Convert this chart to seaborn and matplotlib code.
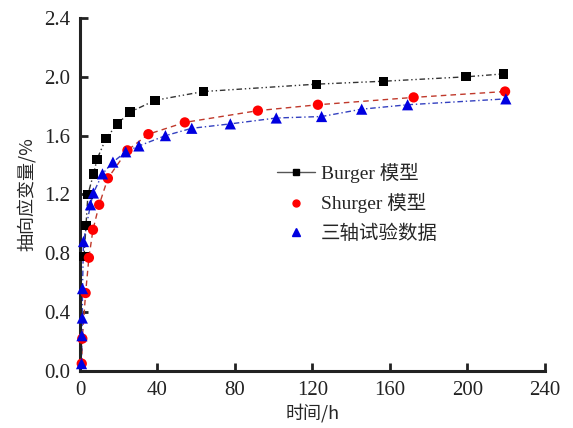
import numpy as np
import pandas as pd
import matplotlib
matplotlib.use("Agg")
import matplotlib.pyplot as plt
import seaborn as sns
from matplotlib.lines import Line2D

# Burger model
burger_t = [2.1, 3.1, 4.1, 7.0, 8.8, 13.4, 19.3, 25.8, 38.7, 63.7, 122.0, 156.7, 199.3, 218.7]
burger_e = [0.78, 0.99, 1.20, 1.34, 1.44, 1.58, 1.68, 1.76, 1.84, 1.90, 1.95, 1.97, 2.00, 2.02]

# Shurger model
shurger_t = [0.9, 1.2, 2.9, 4.6, 6.7, 9.9, 14.4, 24.5, 35.3, 54.1, 91.8, 122.8, 172.2, 219.4]
shurger_e = [0.05, 0.22, 0.53, 0.77, 0.96, 1.13, 1.31, 1.50, 1.61, 1.69, 1.77, 1.81, 1.86, 1.90]

# triaxial test data
test_t = [0.8, 1.0, 1.2, 1.3, 1.8, 5.4, 6.9, 11.6, 17.0, 23.6, 30.4, 44.1, 57.7, 77.6,
          101.3, 124.7, 145.4, 169.1, 219.8]
test_e = [0.05, 0.24, 0.36, 0.56, 0.88, 1.13, 1.21, 1.34, 1.42, 1.49, 1.53, 1.60, 1.65, 1.68,
          1.72, 1.73, 1.78, 1.81, 1.85]

x_ticks = [0, 40, 80, 120, 160, 200, 240]
y_ticks = [0.0, 0.4, 0.8, 1.2, 1.6, 2.0, 2.4]
labels = ["Burger 模型", "Shurger 模型", "三轴试验数据"]

sns.set_style("ticks")
plt.rcParams["font.family"] = ["Liberation Serif", "Noto Sans CJK SC"]

fig = plt.figure(figsize=(5.73, 4.28), dpi=100)
ax = fig.add_axes([0.1396, 0.1332, 0.8115, 0.8248])

df_b = pd.DataFrame({"t": burger_t, "e": burger_e})
df_s = pd.DataFrame({"t": shurger_t, "e": shurger_e})
df_x = pd.DataFrame({"t": test_t, "e": test_e})

# fitted / connecting lines
sns.lineplot(data=df_b, x="t", y="e", ax=ax, color="#333333", lw=1.0, sort=False)
ax.lines[-1].set_dashes([4, 2, 1, 2, 1, 2])
sns.lineplot(data=df_s, x="t", y="e", ax=ax, color="#c0392b", lw=1.0, sort=False)
ax.lines[-1].set_dashes([4, 3])
sns.lineplot(data=df_x, x="t", y="e", ax=ax, color="#3340c0", lw=1.0, sort=False)
ax.lines[-1].set_dashes([4, 2, 1, 2])

# markers
sns.scatterplot(data=df_b, x="t", y="e", ax=ax, marker="s", s=45, color="black",
                edgecolor="none", clip_on=False, zorder=3)
sns.scatterplot(data=df_s, x="t", y="e", ax=ax, marker="o", s=55, color="red",
                edgecolor="none", clip_on=False, zorder=3)
sns.scatterplot(data=df_x, x="t", y="e", ax=ax, marker="^", s=65, color="#0000e0",
                edgecolor="none", clip_on=False, zorder=4)

ax.set_xlim(0, 240)
ax.set_ylim(0, 2.4)
ax.set_xticks(x_ticks)
ax.set_yticks(y_ticks)
ax.set_yticklabels([f"{v:.1f}" for v in y_ticks])
ax.tick_params(direction="in", length=6, width=2, labelsize=15, colors="#222222", pad=7)
for s in ["left", "bottom"]:
    ax.spines[s].set_linewidth(2.2)
    ax.spines[s].set_color("#222222")
sns.despine(ax=ax)

cjk = ["Noto Sans CJK SC"]
ax.set_xlabel("时间/h", fontsize=13, family=cjk, labelpad=3)
ax.set_ylabel("抽向应变量/%", fontsize=13, family=cjk, labelpad=6)

handles = [
    Line2D([], [], color="#555555", lw=1.0, marker="s", markersize=5, markerfacecolor="black",
           markeredgecolor="black"),
    Line2D([], [], color="none", marker="o", markersize=5, markerfacecolor="red",
           markeredgecolor="red"),
    Line2D([], [], color="none", marker="^", markersize=6, markerfacecolor="#0000e0",
           markeredgecolor="#0000e0"),
]
ax.legend(handles, labels, loc="upper left", bbox_to_anchor=(0.385, 0.64), frameon=False,
          handlelength=2.0, handletextpad=0.3, labelspacing=0.55,
          prop={"family": ["Liberation Serif", "Noto Sans CJK SC"], "size": 14})

fig.savefig("out.png", dpi=100)
